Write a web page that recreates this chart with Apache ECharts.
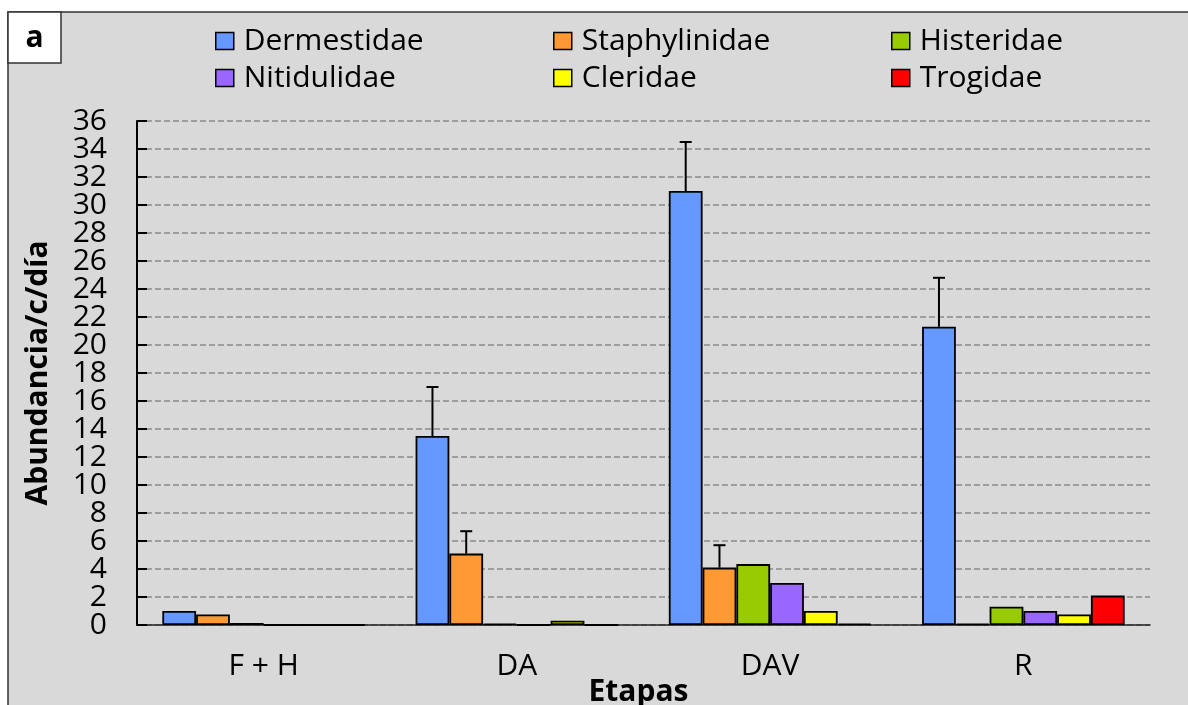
<!DOCTYPE html>
<html>
<head>
<meta charset="utf-8">
<script src="https://cdn.jsdelivr.net/npm/echarts@6/dist/echarts.min.js"></script>
<style>html,body{margin:0;padding:0;background:#fff;}#c{width:1188px;height:705px;}</style>
</head>
<body>
<div id="c"></div>
<script>
var categories = ['F + H', 'DA', 'DAV', 'R'];
var seriesNames = ['Dermestidae', 'Staphylinidae', 'Histeridae', 'Nitidulidae', 'Cleridae', 'Trogidae'];
var colors = ['#6699FF', '#FF9933', '#99CC00', '#9966FF', '#FFFF00', '#FF0000'];
var dermestidae = [1.0, 13.5, 31.0, 21.3];
var staphylinidae = [0.75, 5.1, 4.1, 0.1];
var histeridae = [0.15, 0.1, 4.35, 1.3];
var nitidulidae = [0, 0, 3.0, 1.0];
var cleridae = [0, 0.3, 1.0, 0.75];
var trogidae = [0, 0, 0.1, 2.1];
var dermestidaeUpper = [null, 17.0, 34.5, 24.8];
var staphylinidaeUpper = [null, 6.7, 5.7, null];
var yTicks = { min: 0, max: 36, interval: 2 };

var values = [dermestidae, staphylinidae, histeridae, nitidulidae, cleridae, trogidae];
var uppers = [dermestidaeUpper, staphylinidaeUpper];
var FONT = 'Open Sans';
var GAP = 0.2;

var errData = [];
uppers.forEach(function (arr, s) {
  arr.forEach(function (u, i) {
    if (u != null) errData.push([i, values[s][i], u, s]);
  });
});

var series = seriesNames.map(function (n, s) {
  return {
    name: n, type: 'bar', data: values[s],
    barGap: '0%', barCategoryGap: (GAP * 100) + '%',
    itemStyle: { color: colors[s], borderColor: '#000', borderWidth: 1.8 },
    emphasis: { disabled: true }
  };
});
series.push({
  type: 'custom', z: 10, data: errData,
  renderItem: function (params, api) {
    var ci = api.value(0), lo = api.value(1), hi = api.value(2), s = api.value(3);
    var band = api.size([1, 0])[0];
    var bw = band * (1 - GAP) / 6;
    var cx = api.coord([ci, lo])[0] - band * (1 - GAP) / 2 + bw * (s + 0.5);
    var y0 = api.coord([ci, lo])[1], y1 = api.coord([ci, hi])[1];
    var st = { stroke: '#000', lineWidth: 2 };
    return { type: 'group', children: [
      { type: 'line', shape: { x1: cx, y1: y0, x2: cx, y2: y1 }, style: st },
      { type: 'line', shape: { x1: cx - 6, y1: y1, x2: cx + 6, y2: y1 }, style: st }
    ]};
  }
});

var legendPos = [[215, 26], [553, 26], [891, 26], [215, 63], [553, 63], [891, 63]];
var legends = seriesNames.map(function (n, i) {
  return {
    data: [{ name: n, icon: 'rect' }], left: legendPos[i][0], top: legendPos[i][1], padding: 0,
    itemWidth: 18, itemHeight: 17, selectedMode: false,
    itemStyle: { borderColor: '#000', borderWidth: 1.5 },
    textStyle: { fontFamily: FONT, fontSize: 30, color: '#000', lineHeight: 30, padding: [0, 0, 0, 5] }
  };
});

var labelBase = { fontFamily: FONT, fontSize: 30, color: '#000', margin: 30, hideOverlap: false };
function yLabels(parity) {
  return Object.assign({}, labelBase, {
    formatter: function (v) { return (Math.round(v / yTicks.interval) % 2 === parity) ? String(v) : ''; }
  });
}

var chart = echarts.init(document.getElementById('c'));
chart.setOption({
  backgroundColor: '#ffffff',
  animation: false,
  graphic: [
    { type: 'rect', z: -10, shape: { x: 8, y: 12, width: 1200, height: 720 }, style: { fill: '#d9d9d9', stroke: '#333', lineWidth: 1.5 } },
    { type: 'rect', z: 5, shape: { x: 8, y: 12, width: 53, height: 51 }, style: { fill: '#ffffff', stroke: '#333', lineWidth: 1.5 } },
    { type: 'text', z: 6, x: 34.5, y: 38, style: { text: 'a', fontFamily: FONT, fontWeight: 'bold', fontSize: 30, fill: '#000', align: 'center', verticalAlign: 'middle' } }
  ],
  legend: legends,
  grid: { left: 137, right: 38, top: 121, bottom: 80, containLabel: false, outerBoundsMode: 'none' },
  xAxis: {
    type: 'category', data: categories,
    name: 'Etapas', nameLocation: 'middle', nameGap: 52, nameMoveOverlap: false,
    nameTextStyle: { fontFamily: FONT, fontWeight: 'bold', fontSize: 30, color: '#000', lineHeight: 30, padding: [0, 10, 0, 0] },
    axisLine: { lineStyle: { color: '#222', width: 1.5 } },
    axisTick: { inside: true, length: 8, lineStyle: { color: '#222', width: 1.5 } },
    axisLabel: { fontFamily: FONT, fontSize: 30, color: '#000', margin: 26, lineHeight: 30 }
  },
  yAxis: [{
    type: 'value', min: yTicks.min, max: yTicks.max, interval: yTicks.interval,
    name: 'Abundancia/c/día', nameLocation: 'middle', nameGap: 84, nameMoveOverlap: false,
    nameTextStyle: { fontFamily: FONT, fontWeight: 'bold', fontSize: 30, color: '#000' },
    axisLine: { show: true, lineStyle: { color: '#000', width: 2 } },
    axisTick: { show: true, inside: true, length: 10, lineStyle: { color: '#000', width: 2 } },
    axisLabel: yLabels(0),
    splitLine: { show: true, lineStyle: { color: '#8a8a8a', width: 1.5, type: [6, 3] } }
  }, {
    type: 'value', position: 'left', offset: 0, min: yTicks.min, max: yTicks.max, interval: yTicks.interval,
    axisLine: { show: false }, axisTick: { show: false }, splitLine: { show: false },
    axisLabel: yLabels(1)
  }],
  series: series
});
</script>
</body>
</html>
